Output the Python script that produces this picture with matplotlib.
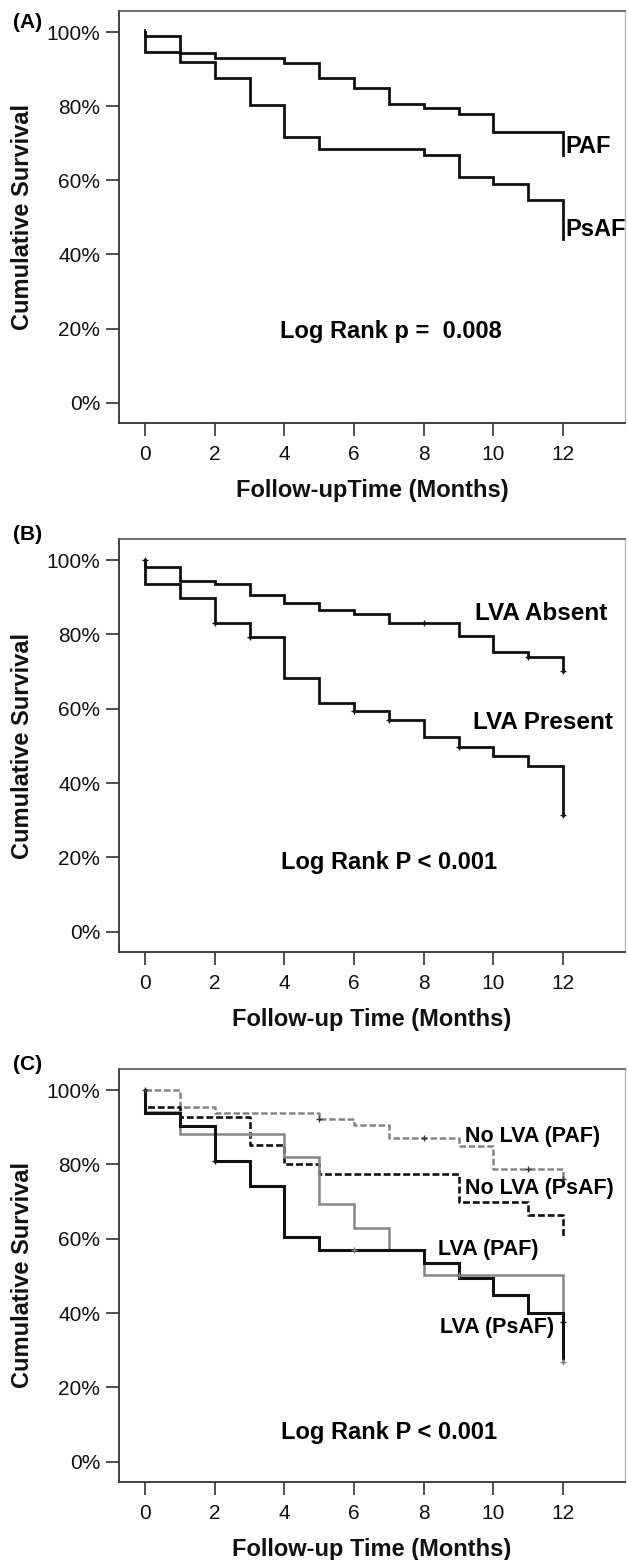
import matplotlib
matplotlib.use("Agg")
import matplotlib.pyplot as plt

plt.rcParams['font.family'] = ['Liberation Sans', 'DejaVu Sans']

# ---------------- data ----------------
# Panel A
paf_t = [0, 1, 2, 4, 5, 6, 7, 8, 9, 10, 12]
paf_s = [98.9, 94.3, 92.9, 91.7, 87.5, 84.8, 80.6, 79.4, 77.8, 73.0, 66.9]
psaf_t = [0, 1, 2, 3, 4, 5, 8, 9, 10, 11, 12]
psaf_s = [94.7, 92.0, 87.5, 80.3, 71.8, 68.4, 66.9, 61.0, 59.0, 54.8, 44.2]

# Panel B
absent_t = [0, 1, 2, 3, 4, 5, 6, 7, 9, 10, 11, 12]
absent_s = [98.2, 94.4, 93.5, 90.6, 88.6, 86.7, 85.5, 83.1, 79.6, 75.3, 74.0, 70.2]
present_t = [0, 1, 2, 3, 4, 5, 6, 7, 8, 9, 10, 11, 12]
present_s = [93.7, 89.7, 83.2, 79.2, 68.2, 61.6, 59.4, 57.1, 52.5, 49.8, 47.3, 44.7, 31.4]
absent_cx = [0, 8, 11, 12]
absent_cy = [100, 83.1, 74.0, 70.2]
present_cx = [2, 3, 6, 7, 9, 12]
present_cy = [83.2, 79.2, 59.4, 57.1, 49.8, 31.4]

# Panel C
nolva_paf_t = [1, 2, 5, 6, 7, 9, 10, 12]
nolva_paf_s = [95.4, 93.8, 92.2, 90.5, 87.0, 84.9, 78.7, 76.0]
nolva_psaf_t = [0, 1, 3, 4, 5, 9, 11, 12]
nolva_psaf_s = [95.4, 92.7, 85.2, 80.1, 77.4, 70.0, 66.4, 60.5]
lva_paf_t = [0, 1, 4, 5, 6, 7, 8, 12]
lva_paf_s = [94.0, 88.3, 81.9, 69.3, 62.9, 57.1, 50.2, 26.9]
lva_psaf_t = [0, 1, 2, 3, 4, 5, 8, 9, 10, 11, 12]
lva_psaf_s = [93.8, 90.3, 80.9, 74.1, 60.4, 57.1, 53.6, 49.3, 44.8, 40.1, 28.0]
nolva_paf_cx = [0, 5, 8, 11, 12]
nolva_paf_cy = [100, 92.2, 87.0, 78.7, 76.0]
lva_paf_cx = [3, 6, 9, 12]
lva_paf_cy = [88.3, 57.1, 50.2, 26.9]
lva_psaf_cx = [2, 12]
lva_psaf_cy = [80.9, 37.5]

x_ticks = [0, 2, 4, 6, 8, 10, 12]
y_ticks = [0, 20, 40, 60, 80, 100]
y_ticklabels = ['0%', '20%', '40%', '60%', '80%', '100%']


def km_path(times, surv, start=100.0):
    xs, ys = [0], [start]
    prev = start
    for t, s in zip(times, surv):
        xs += [t, t]
        ys += [prev, s]
        prev = s
    return xs, ys


fig = plt.figure(figsize=(6.28, 15.6), dpi=100)

W, H = 628.0, 1560.0
left_px, right_px = 119, 625
panels = [(11, 423), (539, 952), (1069, 1482)]
axes = []
for top, bot in panels:
    ax = fig.add_axes([left_px / W, 1 - bot / H, (right_px - left_px) / W, (bot - top) / H])
    axes.append(ax)


def style(ax, xlabel):
    ax.set_xlim(-0.75, 13.78)
    ax.set_ylim(-5.5, 105.7)
    ax.set_xticks(x_ticks)
    ax.set_xticklabels([str(v) for v in x_ticks])
    ax.set_yticks(y_ticks)
    ax.set_yticklabels(y_ticklabels)
    ax.tick_params(axis='both', direction='out', length=9.5, width=1.2,
                   color='#333333', labelsize=15, labelcolor='#111111')
    ax.tick_params(axis='y', pad=4)
    ax.tick_params(axis='x', pad=6)
    for side in ['left', 'bottom']:
        ax.spines[side].set_color('#333333')
        ax.spines[side].set_linewidth(1.3)
    ax.spines['top'].set_color('#555555')
    ax.spines['top'].set_linewidth(1.2)
    ax.spines['right'].set_color('#bbbbbb')
    ax.spines['right'].set_linewidth(1.0)
    ax.set_xlabel(xlabel, fontsize=17, fontweight='bold', va='center', color='#111111')
    ax.xaxis.set_label_coords(0.5, -0.163)
    ax.set_ylabel('Cumulative Survival', fontsize=17, fontweight='bold', va='center', color='#111111')
    ax.yaxis.set_label_coords(-0.19, 0.5)


# ---- Panel A ----
ax = axes[0]
ax.plot(*km_path(paf_t, paf_s), color='#111111', lw=2.0, solid_joinstyle='miter')
ax.plot(*km_path(psaf_t, psaf_s), color='#111111', lw=2.0, solid_joinstyle='miter')
ax.plot([0], [100], marker='|', ms=5, color='#111111', mew=1.2)
ax.text(12.06, 69.0, 'PAF', fontsize=17, fontweight='bold', va='center', ha='left')
ax.text(12.06, 46.6, 'PsAF', fontsize=17, fontweight='bold', va='center', ha='left')
ax.text(7.06, 19.1, 'Log Rank p =  0.008', fontsize=17, fontweight='bold', va='center', ha='center')
style(ax, 'Follow-upTime (Months)')

# ---- Panel B ----
ax = axes[1]
ax.plot(*km_path(absent_t, absent_s), color='#111111', lw=2.0, solid_joinstyle='miter')
ax.plot(*km_path(present_t, present_s), color='#111111', lw=2.0, solid_joinstyle='miter')
ax.plot(absent_cx, absent_cy, ls='none', marker='+', ms=5, mew=1.0, color='#111111')
ax.plot(present_cx, present_cy, ls='none', marker='+', ms=5, mew=1.0, color='#111111')
ax.text(9.47, 85.7, 'LVA Absent', fontsize=17.5, fontweight='bold', va='center', ha='left')
ax.text(9.41, 56.3, 'LVA Present', fontsize=17.5, fontweight='bold', va='center', ha='left')
ax.text(7.0, 18.6, 'Log Rank P < 0.001', fontsize=17, fontweight='bold', va='center', ha='center')
style(ax, 'Follow-up Time (Months)')

# ---- Panel C ----
ax = axes[2]
gray = '#858585'
dash = (0, (2.6, 1.1))
ax.plot(*km_path(nolva_paf_t, nolva_paf_s), color=gray, lw=1.8, ls=dash)
ax.plot(*km_path(nolva_psaf_t, nolva_psaf_s), color='#111111', lw=1.9, ls=dash)
ax.plot(*km_path(lva_paf_t, lva_paf_s), color=gray, lw=1.8, solid_joinstyle='miter')
ax.plot(*km_path(lva_psaf_t, lva_psaf_s), color='#111111', lw=2.2, solid_joinstyle='miter')
ax.plot(nolva_paf_cx, nolva_paf_cy, ls='none', marker='+', ms=5, mew=1.0, color='#333333')
ax.plot(lva_paf_cx, lva_paf_cy, ls='none', marker='+', ms=5, mew=1.0, color=gray)
ax.plot(lva_psaf_cx, lva_psaf_cy, ls='none', marker='+', ms=5, mew=1.0, color='#111111')
ax.text(9.19, 87.6, 'No LVA (PAF)', fontsize=15.5, fontweight='bold', va='center', ha='left')
ax.text(9.19, 73.4, 'No LVA (PsAF)', fontsize=15.5, fontweight='bold', va='center', ha='left')
ax.text(8.41, 57.2, 'LVA (PAF)', fontsize=15.5, fontweight='bold', va='center', ha='left')
ax.text(8.47, 36.0, 'LVA (PsAF)', fontsize=15.5, fontweight='bold', va='center', ha='left')
ax.text(7.0, 7.8, 'Log Rank P < 0.001', fontsize=17, fontweight='bold', va='center', ha='center')
style(ax, 'Follow-up Time (Months)')

# panel letters
for lbl, ypx in [('(A)', 22), ('(B)', 535), ('(C)', 1064)]:
    fig.text(13 / W, 1 - ypx / H, lbl, fontsize=15, fontweight='bold', va='center', ha='left')

fig.savefig('out.png', dpi=100, facecolor='white')
